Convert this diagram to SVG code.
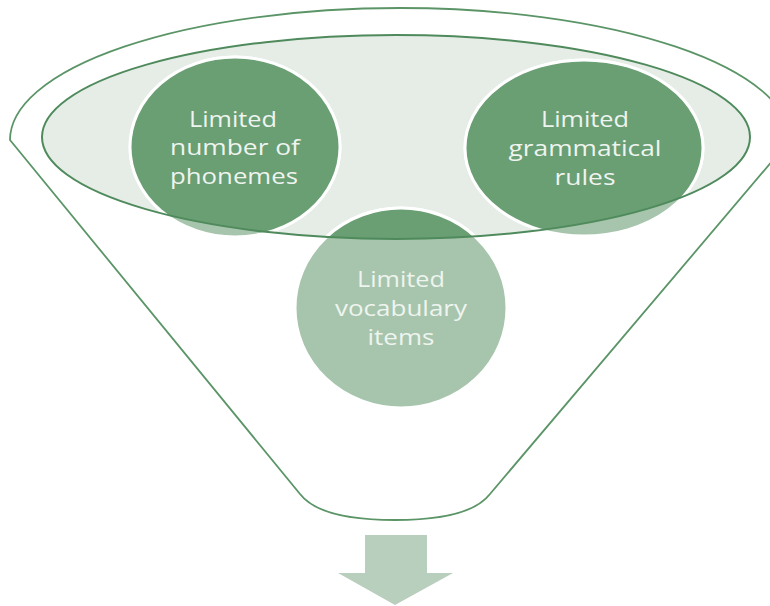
<svg xmlns="http://www.w3.org/2000/svg" width="770" height="606" viewBox="0 0 770 606">
  <defs>
    <clipPath id="inE">
      <ellipse cx="396" cy="137" rx="354" ry="102"/>
    </clipPath>
    <style>
      .funnel { fill: #ffffff; stroke: #5b9567; stroke-width: 1.8; }
      .rimfill { fill: #e5ede6; }
      .rim { fill: none; stroke: #4f8a5c; stroke-width: 2; }
      .light { fill: #a7c5ac; stroke: #ffffff; stroke-width: 3; }
      .dark { fill: #6a9e73; stroke: #ffffff; stroke-width: 3; }
      .lbl { font-family: "Open Sans", "Liberation Sans", sans-serif; font-size: 22px; fill: #eef4ef; text-anchor: middle; }
      .arrow { fill: #b9cfbe; }
    </style>
  </defs>
  <rect width="770" height="606" fill="#ffffff"/>
  <g id="funnel">
    <path class="funnel" d="M 10 140 A 390 132 0 0 1 790 140 L 490 494 Q 470 520 395 520 Q 320 520 300 494 Z"/>
    <ellipse class="rimfill" cx="396" cy="137" rx="354" ry="102"/>
  </g>
  <g id="node-phonemes">
    <ellipse class="light" cx="235" cy="147" rx="105" ry="90"/>
    <ellipse class="dark" cx="235" cy="147" rx="105" ry="90" clip-path="url(#inE)"/>
  </g>
  <g id="node-grammar">
    <ellipse class="light" cx="584" cy="148" rx="119" ry="88"/>
    <ellipse class="dark" cx="584" cy="148" rx="119" ry="88" clip-path="url(#inE)"/>
  </g>
  <g id="node-vocabulary">
    <ellipse class="light" cx="401" cy="308" rx="106" ry="100"/>
    <ellipse class="dark" cx="401" cy="308" rx="106" ry="100" clip-path="url(#inE)"/>
  </g>
  <g id="rim">
    <ellipse class="rim" cx="396" cy="137" rx="354" ry="102"/>
  </g>
  <g id="labels">
    <text class="lbl" x="233" y="127" textLength="88" lengthAdjust="spacingAndGlyphs">Limited</text>
    <text class="lbl" x="235" y="155" textLength="130" lengthAdjust="spacingAndGlyphs">number of</text>
    <text class="lbl" x="234" y="184" textLength="128" lengthAdjust="spacingAndGlyphs">phonemes</text>
    <text class="lbl" x="585" y="127" textLength="88" lengthAdjust="spacingAndGlyphs">Limited</text>
    <text class="lbl" x="585" y="156" textLength="153" lengthAdjust="spacingAndGlyphs">grammatical</text>
    <text class="lbl" x="585" y="185" textLength="61" lengthAdjust="spacingAndGlyphs">rules</text>
    <text class="lbl" x="401" y="287" textLength="88" lengthAdjust="spacingAndGlyphs">Limited</text>
    <text class="lbl" x="401" y="316" textLength="132" lengthAdjust="spacingAndGlyphs">vocabulary</text>
    <text class="lbl" x="401" y="345" textLength="67" lengthAdjust="spacingAndGlyphs">items</text>
  </g>
  <g id="connectors">
    <path class="arrow" d="M 365 535 L 427 535 L 427 573 L 453 573 L 395 605 L 338 573 L 365 573 Z"/>
  </g>
</svg>
